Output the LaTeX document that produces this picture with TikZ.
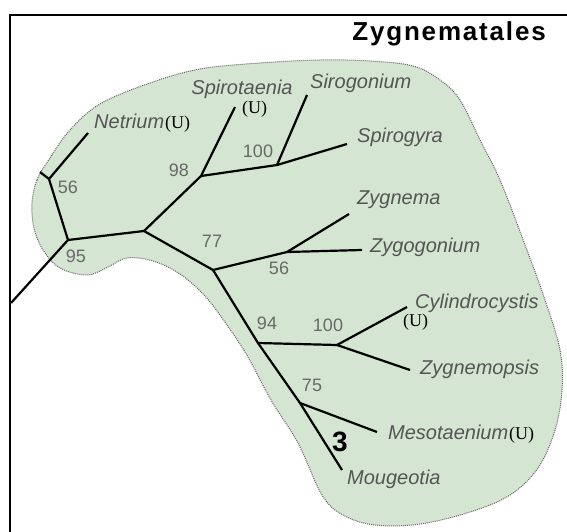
\documentclass[tikz,border=0pt]{standalone}
\usepackage{fontspec}
\setmainfont{Liberation Serif}
\setsansfont{Liberation Sans}
\newfontfamily\TitleFont[LetterSpace=7]{Liberation Sans}
\usetikzlibrary{positioning}
\definecolor{blobgreen}{RGB}{212,229,209}
\definecolor{labgray}{RGB}{85,85,85}
\definecolor{numgray}{RGB}{105,105,105}
\tikzset{taxon/.style={font=\sffamily\itshape\fontsize{20}{24}\selectfont,text=labgray,inner sep=0pt,anchor=mid west}}
\tikzset{boot/.style={font=\sffamily\fontsize{18}{22}\selectfont,text=numgray,inner sep=0pt,anchor=mid}}
\tikzset{unk/.style={font=\rmfamily\fontsize{18}{22}\selectfont,inner sep=0pt}}
\tikzset{br/.style={line width=2.2pt}}
\tikzset{blob/.style={fill=blobgreen,draw=black!60,densely dotted,line width=1pt}}
\begin{document}
\begin{tikzpicture}[x=1pt,y=-1pt]
\useasboundingbox (0,0) rectangle (567,532);
\filldraw[blob] plot[smooth cycle,tension=0.6] coordinates {(32,203)(37,180)(50,158)(70,130)(100,104)(150,83)(200,69)(260,63)(320,60)(370,61)(413,66)(440,80)(460,100)(480,140)(500,180)(525,245)(545,300)(560,350)(562,390)(555,430)(538,468)(510,495)(470,512)(420,524)(375,525)(343,515)(322,495)(298,443)(271,400)(248,357)(227,325)(205,296)(180,274)(153,261)(127,258)(108,267)(87,275)(60,268)(43,250)(34,228)};
\draw[line width=2pt] (567,15)--(10,15)--(10,532);
\node[font=\TitleFont\bfseries\fontsize{26}{30}\selectfont,inner sep=0pt,anchor=base east] (title) at (546,41) {Zygnematales};
\coordinate (root) at (11,303);\coordinate (n95) at (68,240);\coordinate (n56) at (49,179);\coordinate (stub) at (40,172);\coordinate (tNet) at (88,133);
\coordinate (nA) at (144,231);\coordinate (n98) at (201,176);\coordinate (tSpt) at (235,107);\coordinate (n100) at (277,165);\coordinate (tSir) at (307,95);\coordinate (tSpg) at (347,144);
\coordinate (n77) at (213,270);\coordinate (n56b) at (287,252);\coordinate (tZyg) at (349,214);\coordinate (tZgg) at (362,250);
\coordinate (n94) at (258,343);\coordinate (n100b) at (337,345);\coordinate (tCyl) at (407,307);\coordinate (tZgm) at (410,370);
\coordinate (n75) at (300,403);\coordinate (tMes) at (377,432);\coordinate (tMou) at (342,470);
\draw[br] (root)--(n95)--(n56)--(tNet);\draw[br] (n56)--(stub);
\draw[br] (n95)--(nA)--(n98)--(tSpt);\draw[br] (n98)--(n100)--(tSir);\draw[br] (n100)--(tSpg);
\draw[br] (nA)--(n77)--(n56b)--(tZyg);\draw[br] (n56b)--(tZgg);
\draw[br] (n77)--(n94)--(n100b)--(tCyl);\draw[br] (n100b)--(tZgm);
\draw[br] (n94)--(n75)--(tMes);\draw[br] (n75)--(tMou);
\node[taxon] (netrium) at (94,126) {Netrium};
\node[unk,right=0.5pt of netrium.base east,anchor=base west] (uNet) {(U)};
\node[taxon,anchor=mid] (spirotaenia) at (242,92) {Spirotaenia};
\node[unk,anchor=mid west] (uSpt) at (242,111) {(U)};
\node[taxon] (sirogonium) at (310,86) {Sirogonium};
\node[taxon] (spirogyra) at (357,140) {Spirogyra};
\node[taxon] (zygnema) at (357,202) {Zygnema};
\node[taxon] (zygogonium) at (370,250) {Zygogonium};
\node[taxon] (cylindrocystis) at (415,306) {Cylindrocystis};
\node[unk,anchor=mid west] (uCyl) at (403,324) {(U)};
\node[taxon] (zygnemopsis) at (420,372) {Zygnemopsis};
\node[taxon] (mesotaenium) at (388,437) {Mesotaenium};
\node[unk,right=0.5pt of mesotaenium.base east,anchor=base west] (uMes) {(U)};
\node[taxon] (mougeotia) at (347,482) {Mougeotia};
\node[boot] (b56a) at (68,191) {56};\node[boot] (b95) at (76,260) {95};\node[boot] (b98) at (179,174) {98};\node[boot] (b100a) at (258,155) {100};
\node[boot] (b77) at (212,245) {77};\node[boot] (b56b) at (279,272) {56};\node[boot] (b94) at (267,327) {94};\node[boot] (b100b) at (328,329) {100};\node[boot] (b75) at (312,389) {75};
\node[font=\sffamily\bfseries\fontsize{28}{32}\selectfont,inner sep=0pt,anchor=base] (three) at (340,451) {3};
\end{tikzpicture}
\end{document}
